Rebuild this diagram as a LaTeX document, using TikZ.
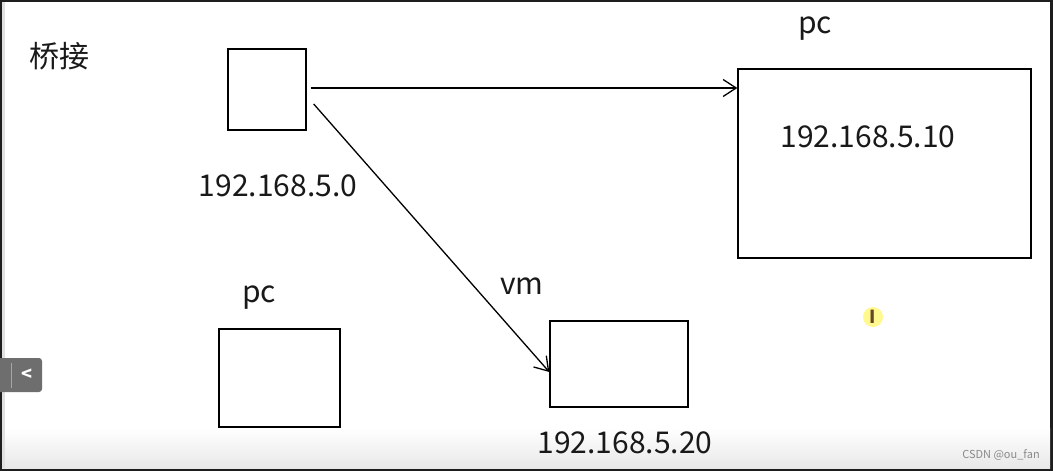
\documentclass[tikz,border=0pt]{standalone}
\usepackage{fontspec}
\setmainfont{Noto Sans CJK SC}
\usetikzlibrary{arrows.meta,calc}
\definecolor{frame}{HTML}{1E1E1E}
\definecolor{tabgrey}{HTML}{6E6E6E}
\definecolor{wm}{HTML}{8A8A8A}
\tikzset{
  box/.style={draw=black, line width=1.4pt, minimum width=#1, inner sep=0pt},
  lbl/.style={font=\fontsize{30}{34}\selectfont, inner sep=0pt, text=black!90},
  arr/.style={line width=1.3pt, -{Straight Barb[length=13pt,width=17pt,line width=1.3pt]}},
}
\begin{document}
\begin{tikzpicture}[x=1pt,y=-1pt]
\useasboundingbox (0,0) rectangle (1053,471);
% screenshot frame
\fill[frame] (0,0) rectangle (1053,471);
\fill[white] (2,2) rectangle (1050,468);
\shade[top color=white, bottom color=black!9] (2,428) rectangle (1050,468);
\fill[black!12] (2,2) rectangle (5,468);
% title
\node[lbl] (title) at (60,56) {桥接};
% boxes
\node[box=78pt, minimum height=81pt] (src) at (267,89.5) {};
\node[box=293pt, minimum height=189pt] (pc) at (884.5,163.5) {};
\node[box=138pt, minimum height=86pt] (vm) at (619,364) {};
\node[box=121pt, minimum height=98pt] (pc2) at (279.5,378) {};
% labels
\node[lbl] (srcip) at (278,186) {192.168.5.0};
\node[lbl] (pclbl) at (815,29) {pc};
\node[lbl] (pcip) at (868,137) {192.168.5.10};
\node[lbl] (vmlbl) at (522,286) {vm};
\node[lbl] (vmip) at (625,443) {192.168.5.20};
\node[lbl] (pc2lbl) at (259,298) {pc};
% connectors
\draw[arr] ($(src.east)+(4,-1.5)$) -- ($(src.east -| pc.west)+(0,-1.5)$);
\draw[arr] ($(src.east)+(7,14.5)$) -- ($(vm.west)+(0,8)$);
% cursor icon
\fill[yellow!80, opacity=0.55] (873,317) circle (10pt);
\node[font=\bfseries\fontsize{18}{18}\selectfont, text=brown!55!black, inner sep=0pt] (cursor) at (873,317) {I};
% side tab
\fill[tabgrey, rounded corners=3pt] (-4,358) rectangle (42,392);
\draw[black!35, line width=1pt] (11,363) -- (11,388);
\node[text=white, font=\bfseries\fontsize{18}{18}\selectfont, inner sep=0pt] (tab) at (27,375) {\textless};
% watermark
\node[text=wm, font=\fontsize{11}{12}\selectfont, inner sep=0pt] (wmk) at (1001,455) {CSDN @ou\_fan};
\end{tikzpicture}
\end{document}
